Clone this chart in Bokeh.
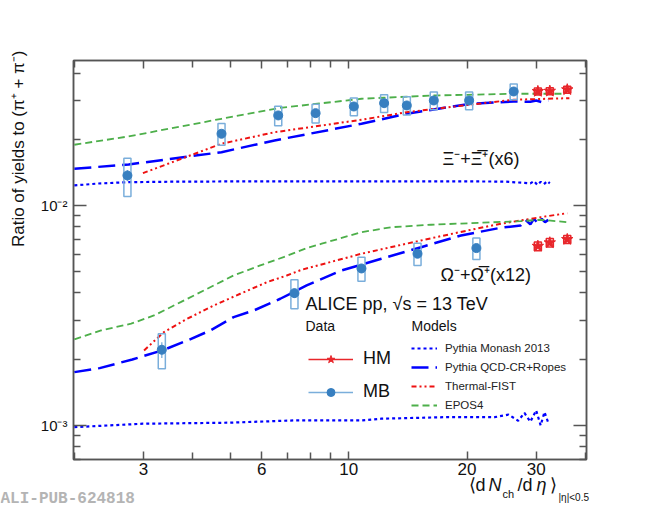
import numpy as np
from bokeh.plotting import figure
from bokeh.layouts import column, row
from bokeh.models import (Range1d, LogAxis, FixedTicker, BasicTickFormatter,
                          Label, Legend, LegendItem, Title)
from bokeh.embed import file_html
from bokeh.resources import INLINE

# ---- data ----
# Xi (x6), minimum bias classes
xi_mb_x = [2.73, 4.74, 6.61, 8.23, 10.3, 12.3, 14.05, 16.46, 20.25, 26.3]
xi_mb_y = [0.01369, 0.02118, 0.02566, 0.02628, 0.02818, 0.02917, 0.02848, 0.03001, 0.03001, 0.03297]
xi_mb_stat = [0.0008, 0.0004, 0.0003, 0.0003, 0.0003, 0.0003, 0.0003, 0.0003, 0.0003, 0.0003]
xi_mb_sys = [0.0027, 0.0024, 0.0026, 0.0026, 0.0026, 0.0027, 0.0027, 0.0028, 0.0028, 0.0027]
# Xi (x6), high multiplicity
xi_hm_x = [30.3, 32.5, 36.0]
xi_hm_y = [0.0330, 0.0331, 0.0336]
xi_hm_stat = [0.0005, 0.0005, 0.0005]
xi_hm_sys = [0.0012, 0.0012, 0.0012]
# Omega (x12)
om_mb_x = [3.34, 7.27, 10.77, 14.96, 21.13]
om_mb_y = [0.002208, 0.003994, 0.005171, 0.006033, 0.00640]
om_mb_stat = [0.00018, 0.0002, 0.0002, 0.0002, 0.0002]
om_mb_sys = [0.0004, 0.0006, 0.00065, 0.0007, 0.00072]
om_hm_x = [30.3, 32.5, 36.0]
om_hm_y = [0.00653, 0.00677, 0.00701]
om_hm_stat = [0.00012, 0.00012, 0.00012]
om_hm_sys = [0.0003, 0.0003, 0.0003]

# models, Xi
xi_monash_x = [2.0, 2.3, 2.75, 3.5, 5.0, 7.0, 10.0, 14.0, 20.0, 25.0, 29.0, 29.6, 30.2, 30.8, 31.4, 32.0, 32.5]
xi_monash_y = [0.01233, 0.01258, 0.01276, 0.01282, 0.01286, 0.01286, 0.01286, 0.01286, 0.01286, 0.01284,
               0.0126, 0.0129, 0.0124, 0.0128, 0.0125, 0.0129, 0.0126]
xi_qcd_x = [2.0, 2.75, 4.74, 6.47, 10.77, 14.05, 16.46, 20.25, 26.3, 29.0, 30.0, 31.0, 32.2]
xi_qcd_y = [0.01468, 0.01536, 0.01747, 0.01975, 0.02352, 0.02611, 0.02731, 0.02893, 0.02970,
            0.0296, 0.0300, 0.0295, 0.0300]
xi_th_x = [2.99, 4.74, 6.48, 10.77, 14.05, 20.25, 26.3, 36.45]
xi_th_y = [0.01402, 0.01908, 0.02153, 0.02452, 0.02655, 0.02869, 0.03024, 0.03075]
xi_epos_x = [2.0, 2.75, 4.74, 6.61, 10.77, 12.27, 16.46, 26.3, 35.4]
xi_epos_y = [0.01888, 0.02060, 0.02478, 0.02769, 0.03055, 0.03087, 0.03162, 0.03219, 0.03219]

# models, Omega
om_monash_x = [2.0, 2.99, 4.95, 7.27, 10.77, 12.11, 17.9, 23.5, 25.5, 27.0, 28.0, 29.0, 30.0, 30.8, 31.5, 32.2]
om_monash_y = [0.000982, 0.001018, 0.001029, 0.001054, 0.001054, 0.001073, 0.001091, 0.00109,
               0.00112, 0.00105, 0.00114, 0.00104, 0.00117, 0.00100, 0.00115, 0.00103]
om_qcd_x = [2.0, 2.32, 2.81, 3.35, 3.88, 4.44, 5.09, 5.73, 6.69, 7.37, 7.81, 9.58, 12.1, 15.28,
            19.31, 24.38, 27.4, 28.2, 29.0, 29.6, 30.3, 31.0, 31.6, 32.2]
om_qcd_y = [0.001747, 0.001822, 0.001995, 0.002193, 0.002434, 0.002703, 0.003107, 0.003332,
            0.003766, 0.004108, 0.004329, 0.005064, 0.005725, 0.006461, 0.007305, 0.007918,
            0.008111, 0.0086, 0.0082, 0.0087, 0.0083, 0.0087, 0.0084, 0.0086]
om_th_x = [3.01, 3.38, 3.88, 4.53, 5.29, 6.19, 6.95, 7.59, 10.77, 15.28, 20.08, 24.38, 30.8, 36.0]
om_th_y = [0.002193, 0.002654, 0.003055, 0.003511, 0.003968, 0.004480, 0.004806, 0.005102,
           0.006033, 0.006935, 0.007697, 0.008257, 0.008846, 0.009226]
om_epos_x = [2.0, 2.34, 2.79, 3.19, 3.73, 4.36, 5.09, 5.95, 6.82, 7.81, 8.53, 10.77, 12.83,
             16.2, 21.7, 27.4, 30.8, 36.0]
om_epos_y = [0.002460, 0.002703, 0.002900, 0.003162, 0.003634, 0.004182, 0.004806, 0.005337,
             0.005821, 0.006397, 0.006700, 0.007560, 0.007966, 0.008172, 0.008345, 0.008486,
             0.008610, 0.008397]

x_ticks = [3, 6, 10, 20, 30]
x_tick_labels = ["3", "6", "10", "20", "30"]
x_minor = [2, 4, 5, 7, 8, 9, 40]
y_ticks = [0.001, 0.01]
y_tick_labels = ["10\u207b\u00b3", "10\u207b\u00b2"]
y_minor = [0.0007, 0.0008, 0.0009, 0.002, 0.003, 0.004, 0.005, 0.006, 0.007, 0.008, 0.009,
           0.02, 0.03, 0.04]

FONT = "Liberation Sans"
MB_COL = "#377fc0"
MB_BOX = "#7aaedb"
HM_COL = "#e8262b"
PYTHIA = "#0000ff"
TH_COL = "#ee1111"
EPOS_COL = "#4daf4a"
AXIS = "#555555"
BOX = 1.021  # half width of the syst. boxes (multiplicative, log x)

p = figure(width=650, height=481, x_axis_type="log", y_axis_type="log",
           x_range=Range1d(1.99, 40.3), y_range=Range1d(0.0007, 0.0456),
           output_backend="svg", toolbar_location=None,
           min_border_left=71, min_border_right=64, min_border_top=60, min_border_bottom=22)
p.xgrid.grid_line_color = None
p.ygrid.grid_line_color = None
p.outline_line_color = AXIS
p.outline_line_width = 1.5

# ---- model curves ----
monash = dict(line_color=PYTHIA, line_width=2.2, line_dash="3 3")
qcd = dict(line_color=PYTHIA, line_width=2.5, line_dash="17 7")
thermal = dict(line_color=TH_COL, line_width=2, line_dash="5 3 2 3 2 3")
epos = dict(line_color=EPOS_COL, line_width=1.8, line_dash="7 4")

r_monash = p.line(xi_monash_x, xi_monash_y, **monash)
r_qcd = p.line(xi_qcd_x, xi_qcd_y, **qcd)
r_th = p.line(xi_th_x, xi_th_y, **thermal)
r_epos = p.line(xi_epos_x, xi_epos_y, **epos)
p.line(om_monash_x, om_monash_y, **monash)
p.line(om_qcd_x, om_qcd_y, **qcd)
p.line(om_th_x, om_th_y, **thermal)
p.line(om_epos_x, om_epos_y, **epos)


# ---- data points ----
def points(x, y, stat, sys, color, box_color, marker, size):
    x, y = np.array(x), np.array(y)
    stat, sys = np.array(stat), np.array(sys)
    p.quad(left=x / BOX, right=x * BOX, bottom=y - sys, top=y + sys,
           fill_color=None, line_color=box_color, line_width=1.5)
    err = p.segment(x, y - stat, x, y + stat, line_color=box_color, line_width=1.3)
    mark = p.scatter(x, y, marker=marker, size=size, fill_color=color, line_color=color)
    return err, mark


mb_err, mb_mark = points(xi_mb_x, xi_mb_y, xi_mb_stat, xi_mb_sys, MB_COL, MB_BOX, "circle", 9)
points(om_mb_x, om_mb_y, om_mb_stat, om_mb_sys, MB_COL, MB_BOX, "circle", 9)
hm_err, hm_mark = points(xi_hm_x, xi_hm_y, xi_hm_stat, xi_hm_sys, HM_COL, HM_COL, "star", 12)
points(om_hm_x, om_hm_y, om_hm_stat, om_hm_sys, HM_COL, HM_COL, "star", 12)

# ---- axes ----
xax = p.xaxis[0]
xax.ticker = FixedTicker(ticks=x_ticks, minor_ticks=x_minor)
xax.formatter = BasicTickFormatter()
xax.major_label_overrides = dict(zip(x_ticks, x_tick_labels))
yax = p.yaxis[0]
yax.ticker = FixedTicker(ticks=y_ticks, minor_ticks=y_minor)
yax.formatter = BasicTickFormatter()
yax.major_label_overrides = dict(zip(y_ticks, y_tick_labels))

top = LogAxis(ticker=FixedTicker(ticks=x_ticks, minor_ticks=x_minor), formatter=BasicTickFormatter(),
              major_label_text_color=None)
right = LogAxis(ticker=FixedTicker(ticks=y_ticks, minor_ticks=y_minor), formatter=BasicTickFormatter(),
                major_label_text_color=None)
p.add_layout(top, "above")
p.add_layout(right, "right")

for ax in (xax, yax, top, right):
    ax.axis_line_color = AXIS
    ax.axis_line_width = 1.5
    ax.major_tick_line_color = AXIS
    ax.minor_tick_line_color = AXIS
    ax.major_tick_line_width = 1.5
    ax.minor_tick_line_width = 1.5
    ax.major_tick_out = 0
    ax.minor_tick_out = 0
    ax.major_label_text_font = FONT
for ax in (xax, yax):
    ax.major_label_text_color = "#111111"
xax.major_tick_in = 8
xax.minor_tick_in = 7
top.major_tick_in = 8
top.minor_tick_in = 7
yax.major_tick_in = 13
yax.minor_tick_in = 7
right.major_tick_in = 13
right.minor_tick_in = 7
xax.major_label_text_font_size = "17px"
xax.major_label_standoff = 3
yax.major_label_text_font_size = "15px"
yax.major_label_standoff = 6

# y axis title, top aligned as in ROOT
p.add_layout(Title(text="Ratio of yields to (\u03c0\u207a + \u03c0\u207b)", align="right", offset=-10,
                   vertical_align="top", standoff=16, text_font=FONT, text_font_size="17px",
                   text_font_style="normal", text_color="#111111"), "left")


# ---- texts (screen units relative to a plot frame) ----
def txt(fig, x, y, s, size, **kw):
    kw.setdefault("text_font", FONT)
    kw.setdefault("text_color", "#111111")
    fig.add_layout(Label(x=x, y=y, x_units="screen", y_units="screen", text=s,
                         text_font_size=size, **kw))


txt(p, 369, 291, "\u039e\u207b+\u039e\u0305\u207a(x6)", "18px")
txt(p, 367, 175, "\u03a9\u207b+\u03a9\u0305\u207a(x12)", "18px")
txt(p, 232, 146, "ALICE pp, \u221as = 13 TeV", "18px")
txt(p, 232, 126, "Data", "14px")
txt(p, 338, 126, "Models", "14px")

# ---- legends ----
data_leg = Legend(items=[LegendItem(label="HM", renderers=[hm_err, hm_mark]),
                         LegendItem(label="MB", renderers=[mb_err, mb_mark])],
                  location=(235, 57), label_text_font=FONT, label_text_font_size="18px",
                  glyph_width=45, glyph_height=20, label_height=20, label_standoff=10,
                  spacing=12, padding=0, margin=0, border_line_color=None,
                  background_fill_alpha=0, label_text_color="#111111")
model_leg = Legend(items=[LegendItem(label="Pythia Monash 2013", renderers=[r_monash]),
                          LegendItem(label="Pythia QCD-CR+Ropes", renderers=[r_qcd]),
                          LegendItem(label="Thermal-FIST", renderers=[r_th]),
                          LegendItem(label="EPOS4", renderers=[r_epos])],
                   location=(338, 48), label_text_font=FONT, label_text_font_size="11.5px",
                   glyph_width=26, glyph_height=12, label_height=12, label_standoff=8,
                   spacing=7, padding=0, margin=0, border_line_color=None,
                   background_fill_alpha=0, label_text_color="#222222")
p.add_layout(data_leg)
p.add_layout(model_leg)

# ---- transparent strip under the plot (pulled up a little) for the x title ----
xlab = figure(width=650, height=39, x_range=Range1d(0, 1), y_range=Range1d(0, 1),
              x_axis_type=None, y_axis_type=None, output_backend="svg",
              toolbar_location=None, min_border=0)
xlab.outline_line_color = None
xlab.background_fill_alpha = 0
xlab.border_fill_alpha = 0
xlab.margin = (-8, 0, 0, 0)
txt(xlab, 468, 18, "\u27e8d", "18px")
txt(xlab, 488, 18, "N", "18px", text_font_style="italic")
txt(xlab, 502, 13, "ch", "11px")
txt(xlab, 517, 18, "/d", "18px")
txt(xlab, 536, 18, "\u03b7", "18px", text_font_style="italic")
txt(xlab, 549, 18, "\u27e9", "18px")
txt(xlab, 558, 10, "|\u03b7|<0.5", "10px")
txt(xlab, 0, 5, "ALI-PUB-624818", "16px", text_font="Liberation Mono",
    text_font_style="bold", text_color="#b4b4b4")

layout = column(row(p), xlab)
open("out.html", "w").write(file_html(layout, INLINE))
